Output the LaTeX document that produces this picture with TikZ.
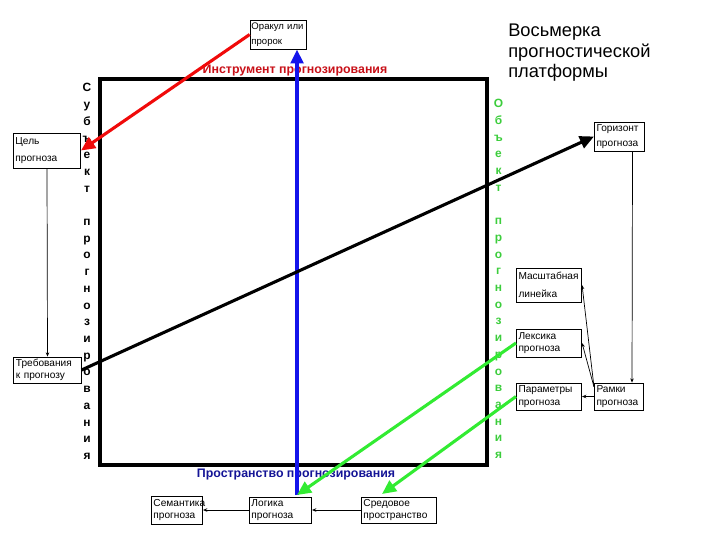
\documentclass[tikz,border=0pt]{standalone}
\usepackage{fontspec}
\setmainfont{Liberation Sans}
\usetikzlibrary{arrows.meta,calc}

\definecolor{arrowred}{RGB}{240,10,10}
\definecolor{titlered}{RGB}{200,16,24}
\definecolor{arrowblue}{RGB}{20,20,235}
\definecolor{titleblue}{RGB}{20,20,150}
\definecolor{arrowgreen}{RGB}{50,235,50}
\definecolor{lettergreen}{RGB}{60,205,60}

\begin{document}
\begin{tikzpicture}[
    x=0.025cm, y=-0.025cm,
    box/.style={draw, line width=0.6pt, align=left, inner xsep=1.5pt, inner ysep=1pt,
        font=\fontsize{7.2}{9}\selectfont},
    sectitle/.style={font=\bfseries\fontsize{8.8}{10}\selectfont, inner sep=0pt},
    letters/.style={align=center, inner sep=0pt, font=\bfseries\fontsize{8.5}{11.88}\selectfont},
    frame/.style={line width=2.2pt},
    bigarrow/.style={line width=2.2pt, -{Triangle[length=10pt,width=9pt]}},
    thinarrow/.style={line width=0.5pt, -{Stealth[length=3pt,width=2.5pt]}}
]
\useasboundingbox (0,0) rectangle (720,540);

% Platform frame
\draw[frame] (100,79) rectangle (487,465);

% Section titles
\node[sectitle, text=titlered] (instrument) at (295,71) {Инструмент прогнозирования};
\node[sectitle, text=titleblue] (space) at (296,475) {Пространство прогнозирования};

% Heading
\node[anchor=north west, align=left, inner sep=0pt, font=\fontsize{13}{14.5}\selectfont]
    (heading) at (508,24) {Восьмерка\\прогностической\\платформы};

% Vertical letters
\node[letters] (subject) at (87,271.5)
    {С\\у\\б\\ъ\\е\\к\\т\\\mbox{}\\п\\р\\о\\г\\н\\о\\з\\и\\р\\о\\в\\а\\н\\и\\я};
\node[letters, text=lettergreen] (object) at (498.5,279)
    {О\\б\\ъ\\е\\к\\т\\\mbox{}\\п\\р\\о\\г\\н\\о\\з\\и\\р\\о\\в\\а\\н\\и\\я};

% Boxes
\node[box, text width=1.35cm, minimum height=0.725cm, inner xsep=1pt, font=\fontsize{6.8}{11}\selectfont] (oracle) at (278.5,34.5) {Оракул~или\\пророк};
\node[box, text width=1.575cm, minimum height=0.875cm, font=\fontsize{7.2}{12.5}\selectfont] (goal) at (47,150.5) {Цель\\прогноза};
\node[box, text width=1.575cm, minimum height=0.65cm] (req) at (47.5,370) {Требования\\к прогнозу};
\node[box, text width=1.15cm, minimum height=0.725cm, font=\fontsize{7.2}{11}\selectfont] (horizon) at (619.5,136.5) {Горизонт\\прогноза};
\node[box, text width=1.525cm, minimum height=0.85cm, font=\fontsize{7.2}{12.5}\selectfont] (scale) at (549,285) {Масштабная\\линейка};
\node[box, text width=1.525cm, minimum height=0.7cm] (lexicon) at (549,343) {Лексика\\прогноза};
\node[box, text width=1.525cm, minimum height=0.675cm] (params) at (549,396.5) {Параметры\\прогноза};
\node[box, text width=1.125cm, minimum height=0.675cm] (frames) at (619,396.5) {Рамки\\прогноза};
\node[box, text width=1.175cm, minimum height=0.7cm] (semantics) at (177,510) {Семантика\\прогноза};
\node[box, text width=1.45cm, minimum height=0.65cm] (logic) at (280.5,510) {Логика\\прогноза};
\node[box, text width=1.775cm, minimum height=0.65cm] (env) at (399,510) {Средовое\\пространство};

\coordinate (bluefoot) at (297,495);
\coordinate (envtip) at (382,494);

% Thin links
\draw[thinarrow] (goal.south) -- (req.north);
\draw[thinarrow] ($(horizon.south)+(13,0)$) -- ($(frames.north)+(13,0)$);
\draw[thinarrow] ([yshift=-3pt]frames.north west) -- (scale.east);
\draw[thinarrow] ([yshift=-3pt]frames.north west) -- (lexicon.east);
\draw[thinarrow] (frames.west) -- (params.east);
\draw[thinarrow] (logic.west) -- (semantics.east);
\draw[thinarrow, {Stealth[length=3pt,width=2.5pt]}-] (logic.east) -- (env.west);

% Main arrows
\draw[bigarrow, arrowred] (oracle.west) -- (goal.east);
\draw[bigarrow, arrowblue, line width=2.4pt] (bluefoot) -- (bluefoot |- oracle.south);
\draw[bigarrow, black] (req.east) -- (horizon.west);
\draw[bigarrow, arrowgreen] (lexicon.west) -- (bluefoot);
\draw[bigarrow, arrowgreen] (params.west) -- (envtip);

\end{tikzpicture}
\end{document}
